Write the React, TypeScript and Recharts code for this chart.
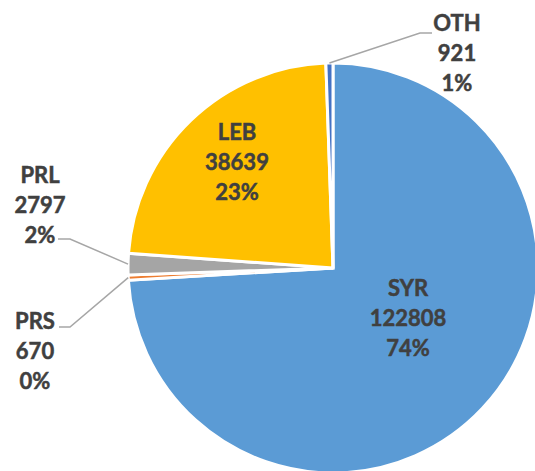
import React from "react";
import { PieChart, Pie, Cell } from "recharts";

const categories = ["SYR", "PRS", "PRL", "LEB", "OTH"];
const values = [122808, 670, 2797, 38639, 921];
const colors = ["#5B9BD5", "#ED7D31", "#A5A5A5", "#FFC000", "#4472C4"];

const data = categories.map((name, i) => ({ name, value: values[i] }));

// label layout: offsets of label block centre from pie centre, and leader elbow info
const labelLayout: Record<string, { dx: number; dy: number; leader?: { ex: number; ey: number; hx: number } }> = {
  SYR: { dx: 75, dy: 49 },
  LEB: { dx: -96, dy: -107 },
  OTH: { dx: 124, dy: -216, leader: { ex: 87, ey: -235, hx: 99 } },
  PRL: { dx: -293, dy: -64, leader: { ex: -263, ey: -29, hx: -275 } },
  PRS: { dx: -298, dy: 82, leader: { ex: -263, ey: 59, hx: -274 } },
};

const RAD = Math.PI / 180;
const TEXT = "#404040";
const LINE_H = 30;

const renderLabel = (props: any) => {
  const { cx, cy, midAngle, outerRadius, percent, name, value } = props;
  const lay = labelLayout[name];
  if (!lay) return null;
  const x = cx + lay.dx;
  const y = cy + lay.dy;
  const lines = [name, String(value), `${Math.round(percent * 100)}%`];
  let leader = null;
  if (lay.leader) {
    const sx = cx + outerRadius * Math.cos(-midAngle * RAD);
    const sy = cy + outerRadius * Math.sin(-midAngle * RAD);
    const ex = cx + lay.leader.ex;
    const ey = cy + lay.leader.ey;
    const hx = cx + lay.leader.hx;
    leader = (
      <polyline
        points={`${sx},${sy} ${ex},${ey} ${hx},${ey}`}
        fill="none"
        stroke="#A6A6A6"
        strokeWidth={1.5}
      />
    );
  }
  return (
    <g key={`lbl-${name}`}>
      {leader}
      {lines.map((t, i) => (
        <text
          key={i}
          x={x}
          y={y + (i - 1) * LINE_H}
          textAnchor="middle"
          dominantBaseline="central"
          fill={TEXT}
          stroke={TEXT}
          strokeWidth={0.5}
          fontFamily="Lato, 'Open Sans', sans-serif"
          fontWeight={700}
          fontSize={22}
        >
          {t}
        </text>
      ))}
    </g>
  );
};

export default function App() {
  return (
    <div style={{ position: "absolute", left: 0, top: 0, width: 535, height: 471, background: "#fff" }}>
      <PieChart width={535} height={471} margin={{ top: 0, right: 0, bottom: 0, left: 0 }}>
        <Pie
          data={data}
          dataKey="value"
          nameKey="name"
          cx={333}
          cy={268}
          outerRadius={205}
          startAngle={90}
          endAngle={-270}
          stroke="#FFFFFF"
          strokeWidth={3}
          label={renderLabel}
          labelLine={false}
          isAnimationActive={false}
        >
          {data.map((d, i) => (
            <Cell key={d.name} fill={colors[i]} />
          ))}
        </Pie>
      </PieChart>
    </div>
  );
}
